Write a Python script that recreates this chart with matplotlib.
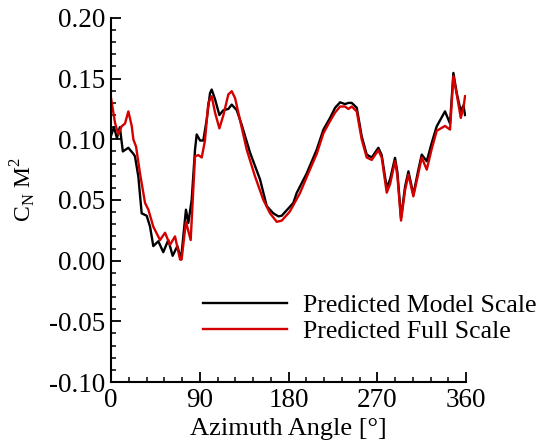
import matplotlib
matplotlib.use('Agg')
import matplotlib.pyplot as plt
from matplotlib.ticker import MultipleLocator, FormatStrFormatter

# data
angle_model = [0, 3, 6, 9, 12, 17.6, 22.7, 24.3, 27.7, 31.1, 36.2, 39.6, 42.9, 48, 53,
               58.1, 62.5, 67.3, 71, 76, 78.4, 81.8, 85.2, 86.9, 90.3, 93.6, 97, 100.4,
               102.1, 105.5, 109.9, 114, 119, 122.4, 127.5, 132.5, 141, 151.1, 157.9,
               164.6, 169.7, 173.1, 179.8, 184.9, 188.3, 198.5, 208.6, 215.4, 222.1,
               227.2, 232.3, 237.3, 240.7, 244.1, 249.2, 254.2, 259.3, 264.4, 271.1,
               274.5, 279.6, 283, 288, 290.4, 294.1, 298.2, 301.6, 306.6, 311.7, 315.1,
               320.2, 325.2, 330.3, 338.7, 343.8, 347.2, 350.6, 354.7, 357.4, 359]
cn_model = [0.103, 0.110, 0.101, 0.110, 0.090, 0.093, 0.088, 0.086, 0.0695, 0.039, 0.037,
            0.028, 0.012, 0.016, 0.007, 0.017, 0.004, 0.012, 0.001, 0.042, 0.031, 0.050,
            0.0915, 0.104, 0.099, 0.099, 0.116, 0.138, 0.141, 0.133, 0.120, 0.124, 0.125,
            0.1286, 0.124, 0.112, 0.089, 0.067, 0.045, 0.039, 0.0365, 0.037, 0.043,
            0.0476, 0.0558, 0.072, 0.0915, 0.108, 0.1176, 0.1259, 0.1305, 0.129, 0.130,
            0.130, 0.126, 0.1025, 0.0874, 0.085, 0.093, 0.087, 0.060, 0.067, 0.0847,
            0.073, 0.0352, 0.061, 0.0736, 0.0544, 0.075, 0.0874, 0.0819, 0.097, 0.1107,
            0.123, 0.113, 0.1547, 0.138, 0.123, 0.128, 0.120]

angle_full = [0, 4.1, 7.4, 10.8, 14.2, 17.6, 21, 22.7, 25.4, 29.4, 34.5, 37.9, 42.9, 49.7,
              54.8, 59.8, 64.9, 70, 71.6, 76, 80.8, 85.2, 88.6, 92, 95.3, 98.7, 102.1,
              105.5, 109.9, 114, 119, 122.4, 125.8, 130.8, 137.6, 146, 154.5, 161.3,
              168.1, 173.1, 179.8, 181.5, 191.7, 198.5, 208.6, 215.4, 222.1, 227.2,
              232.3, 237.3, 240.7, 244.1, 249.2, 254.2, 259.3, 264.4, 271.1, 274.5,
              279.6, 283, 288, 290.4, 294.1, 298.2, 301.6, 306.6, 311.7, 315.1, 320.2,
              325.2, 330.3, 338.7, 343.8, 347.2, 350.6, 354.7, 357.4, 359]
cn_full = [0.134, 0.1135, 0.104, 0.1107, 0.113, 0.123, 0.111, 0.0998, 0.094, 0.072,
           0.0476, 0.042, 0.028, 0.017, 0.023, 0.013, 0.020, 0.001, 0.001, 0.032, 0.017,
           0.086, 0.087, 0.085, 0.099, 0.130, 0.1355, 0.122, 0.109, 0.120, 0.137, 0.1396,
           0.134, 0.116, 0.0915, 0.0695, 0.050, 0.039, 0.032, 0.033, 0.039, 0.0407,
           0.0558, 0.069, 0.088, 0.105, 0.115, 0.122, 0.127, 0.127, 0.125, 0.127, 0.123,
           0.100, 0.085, 0.083, 0.091, 0.085, 0.056, 0.063, 0.082, 0.070, 0.033, 0.058,
           0.071, 0.053, 0.072, 0.085, 0.075, 0.092, 0.107, 0.111, 0.108, 0.152, 0.137,
           0.1176, 0.126, 0.1355]

plt.rcParams['font.family'] = ['Liberation Serif', 'DejaVu Serif']
plt.rcParams['mathtext.fontset'] = 'custom'
plt.rcParams['mathtext.rm'] = 'Liberation Serif'

fig = plt.figure(figsize=(5.42, 4.44), dpi=100)
ax = fig.add_axes([0.2048, 0.1396, 0.655, 0.82])

ax.plot(angle_model, cn_model, color='black', lw=1.7, label='Predicted Model Scale')
ax.plot(angle_full, cn_full, color='#d40000', lw=1.7, label='Predicted Full Scale')

ax.set_xlim(0, 360)
ax.set_ylim(-0.1, 0.2)
ax.xaxis.set_major_locator(MultipleLocator(90))
ax.xaxis.set_minor_locator(MultipleLocator(18))
ax.yaxis.set_major_locator(MultipleLocator(0.05))
ax.yaxis.set_minor_locator(MultipleLocator(0.01))
ax.yaxis.set_major_formatter(FormatStrFormatter('%.2f'))

for s in ['top', 'right']:
    ax.spines[s].set_visible(False)
for s in ['left', 'bottom']:
    ax.spines[s].set_linewidth(1.5)

ax.tick_params(which='major', direction='in', length=7, width=1.3, labelsize=19.5, pad=4)
ax.tick_params(which='minor', direction='in', length=3.5, width=1.1)

ax.set_xlabel('Azimuth Angle [°]', fontsize=19)
ax.set_ylabel(r'C$_\mathregular{N}$ M$^\mathregular{2}$', fontsize=17)
ax.xaxis.set_label_coords(0.5, -0.1)
ax.yaxis.set_label_coords(-0.205, 0.53)

ax.legend(loc='upper left', bbox_to_anchor=(0.375, 0.337), bbox_transform=fig.transFigure,
          frameon=False, fontsize=18.5, handlelength=3.27, handletextpad=0.62,
          labelspacing=0.1, borderpad=0, borderaxespad=0)

fig.savefig('out.png', dpi=100)
